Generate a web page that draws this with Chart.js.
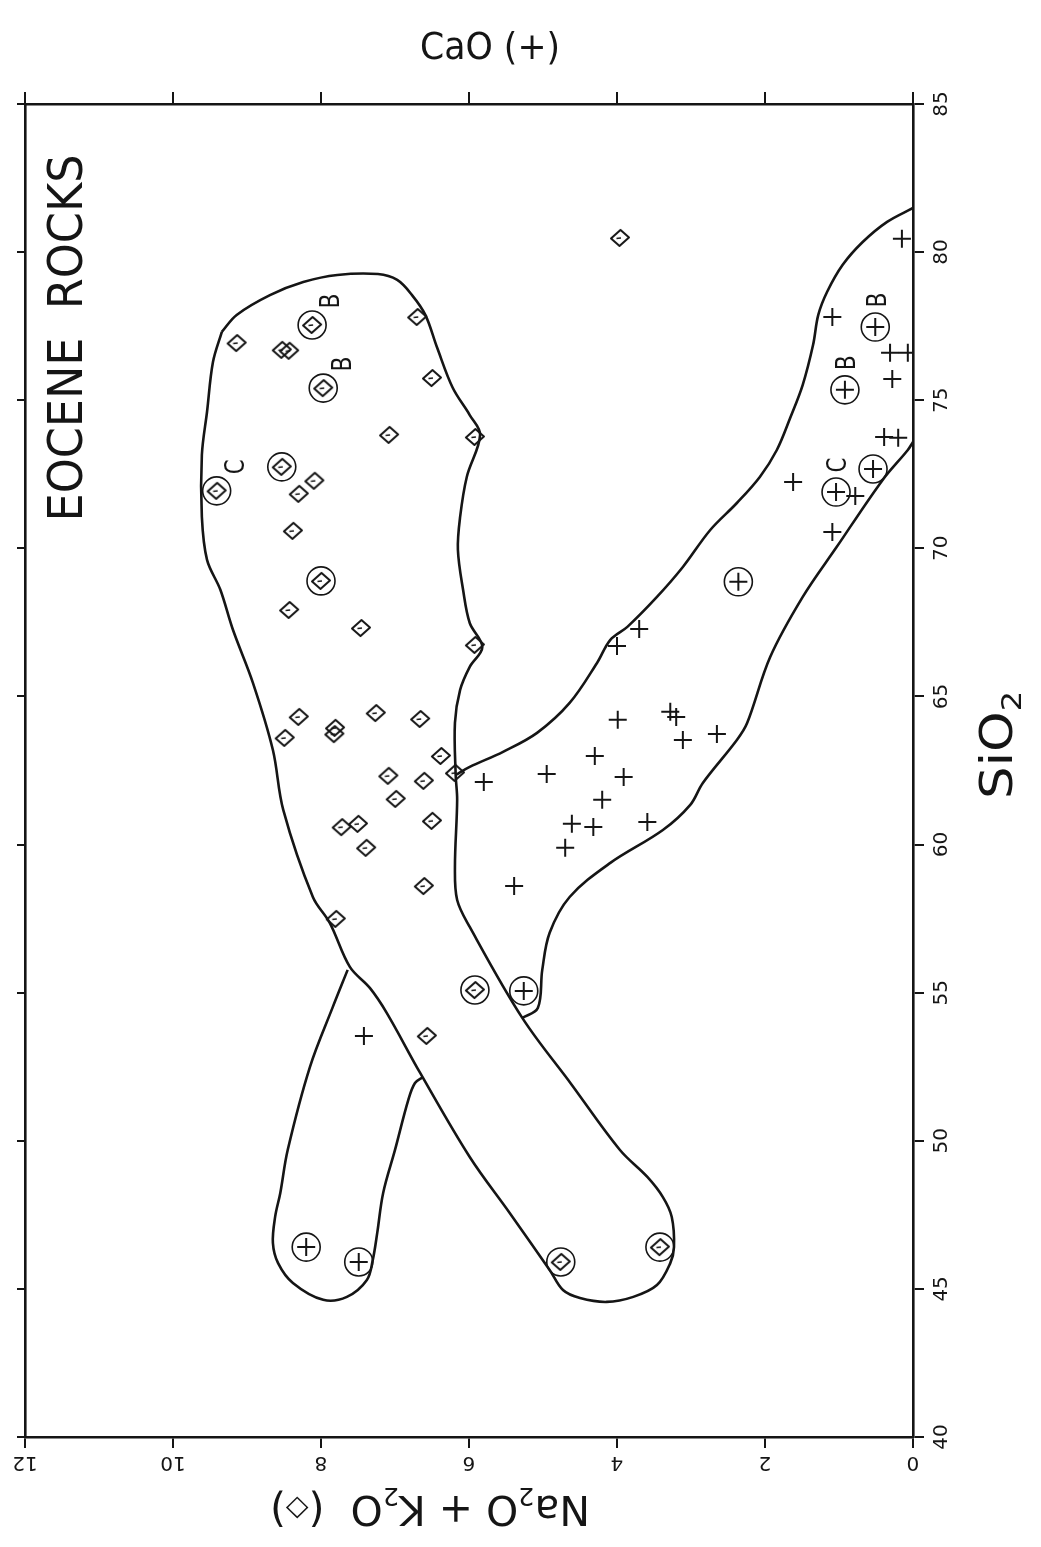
<!DOCTYPE html>
<html>
<head>
<meta charset="utf-8">
<title>Eocene rocks</title>
<script src="https://cdn.jsdelivr.net/npm/chart.js@4.4.1/dist/chart.umd.min.js"></script>
<style>
  html, body { margin: 0; padding: 0; background: #fff; }
  canvas { display: block; }
</style>
</head>
<body>
<canvas id="plot" width="1041" height="1547"></canvas>
<script>
// Tick labels
const silicaTicks = [40, 45, 50, 55, 60, 65, 70, 75, 80, 85];
const alkaliTicks = [0, 2, 4, 6, 8, 10, 12];

// Na2O + K2O samples (diamonds)
const alkSilica = [76.93, 76.70, 76.67, 77.54, 75.41, 77.81, 75.75, 73.83, 73.76, 80.48,
                   71.94, 72.75, 72.28, 71.84, 70.59, 68.90, 67.92, 67.31, 66.74, 64.31,
                   63.60, 63.94, 63.73, 64.44, 64.24, 62.99, 62.42, 62.32, 62.15, 61.54,
                   60.59, 60.70, 60.80, 59.89, 58.60, 57.49, 55.09, 53.54, 45.91, 46.41];
const alkValues = [9.14, 8.53, 8.43, 8.12, 7.97, 6.70, 6.50, 7.08, 5.92, 3.96,
                   9.41, 8.53, 8.09, 8.30, 8.38, 8.00, 8.43, 7.46, 5.92, 8.30,
                   8.49, 7.81, 7.82, 7.26, 6.66, 6.38, 6.19, 7.09, 6.61, 6.99,
                   7.72, 7.50, 6.50, 7.39, 6.61, 7.80, 5.92, 6.57, 4.76, 3.42];
const alkRinged = [3, 4, 10, 11, 15, 36, 38, 39];
const alkTags = { 3: 'B', 4: 'B', 10: 'C' };

// CaO samples (crosses)
const caoSilica = [53.54, 72.68, 71.90, 71.77, 72.24, 70.55, 68.87, 67.28, 66.70, 64.21,
                   64.48, 64.31, 63.53, 63.73, 62.99, 62.38, 62.28, 62.11, 61.51, 60.70,
                   60.59, 60.76, 59.89, 58.60, 55.06, 80.45, 77.81, 77.47, 76.60, 76.60,
                   75.72, 75.35, 73.76, 73.73, 46.41, 45.91];
const caoValues = [7.42, 0.54, 1.04, 0.78, 1.62, 1.09, 2.36, 3.70, 4.00, 3.99,
                   3.28, 3.20, 3.11, 2.65, 4.30, 4.95, 3.91, 5.80, 4.20, 4.61,
                   4.32, 3.59, 4.70, 5.39, 5.26, 0.15, 1.09, 0.51, 0.31, 0.07,
                   0.28, 0.92, 0.39, 0.20, 8.20, 7.49];
const caoRinged = [1, 2, 6, 24, 27, 31, 34, 35];
const caoTags = { 2: 'C', 27: 'B', 31: 'B' };

// Outline of the Na2O + K2O field (closed)
const alkFieldValues = [9.34, 9.46, 9.54, 9.61, 9.61, 9.54, 9.36, 9.19, 8.92, 8.65,
                        8.51, 8.11, 7.88, 7.61, 7.34, 7.11, 6.66, 5.99, 5.45, 4.91,
                        4.73, 4.50, 4.14, 3.78, 3.46, 3.28, 3.23, 3.26, 3.38, 3.59,
                        3.96, 4.62, 5.28, 5.99, 6.16, 6.19, 6.16, 6.18, 6.19, 6.12,
                        5.99, 5.82, 5.99, 6.08, 6.15, 6.12, 6.03, 5.85, 5.99, 6.22,
                        6.43, 6.59, 6.77, 6.97, 7.23, 7.78, 8.24, 8.69, 9.14, 9.34];
const alkFieldSilica = [77.31, 76.29, 74.61, 73.15, 71.06, 69.61, 68.60, 67.25, 65.46, 63.19,
                        61.17, 58.23, 57.35, 55.87, 55.16, 54.31, 52.29, 49.45, 47.56, 45.64,
                        44.96, 44.69, 44.56, 44.73, 45.13, 45.87, 46.41, 47.43, 48.10, 48.78,
                        49.69, 51.92, 54.15, 57.22, 58.13, 59.24, 61.51, 62.35, 64.11, 65.22,
                        66.00, 66.67, 67.48, 68.60, 69.95, 71.06, 72.41, 73.83, 74.50, 75.42,
                        76.77, 77.88, 78.55, 79.06, 79.26, 79.23, 78.99, 78.55, 77.88, 77.31];

// Outline of the CaO field, in three open pieces
const caoUpperValues = [6.18, 5.99, 5.54, 5.08, 4.64, 4.27, 4.09, 3.86, 3.46, 3.11,
                        2.74, 2.38, 2.07, 1.84, 1.66, 1.49, 1.35, 1.28, 1.16, 0.95,
                        0.68, 0.35, 0.00];
const caoUpperSilica = [62.35, 62.62, 63.13, 63.77, 64.78, 66.13, 66.91, 67.35, 68.36, 69.37,
                        70.62, 71.53, 72.41, 73.32, 74.40, 75.52, 76.87, 77.88, 78.66, 79.57,
                        80.34, 81.02, 81.49];
const caoLowerValues = [0.00, 0.07, 0.41, 1.03, 1.49, 1.93, 2.24, 2.38, 2.84, 3.01,
                        3.38, 4.09, 4.64, 4.91, 5.01, 5.07, 5.28];
const caoLowerSilica = [73.59, 73.32, 72.31, 70.05, 68.36, 66.33, 64.11, 63.53, 62.08, 61.34,
                        60.49, 59.38, 58.23, 57.02, 55.77, 54.48, 54.15];
const caoTailValues = [7.64, 7.84, 8.15, 8.45, 8.55, 8.62, 8.65, 8.58, 8.38, 7.97,
                       7.65, 7.38, 7.30, 7.24, 7.16, 7.00, 6.82, 6.73, 6.62];
const caoTailSilica = [55.77, 54.52, 52.49, 49.69, 48.24, 47.43, 46.55, 45.87, 45.20, 44.63,
                       44.73, 45.30, 45.98, 46.89, 48.24, 49.69, 51.38, 51.95, 52.15];

const ink = '#151515';
const face = '"DejaVu Sans", "Liberation Sans", sans-serif';

function pairs(xs, ys) {
    return xs.map((v, i) => ({ x: v, y: ys[i] }));
}

function pick(xs, ys, idx) {
    return idx.map(i => ({ x: xs[i], y: ys[i] }));
}

// Small plotter-style diamond used as the alkali marker
function diamondMarker() {
    const c = document.createElement('canvas');
    c.width = 24;
    c.height = 22;
    const g = c.getContext('2d');
    g.strokeStyle = ink;
    g.lineWidth = 2;
    g.lineJoin = 'round';
    g.beginPath();
    g.moveTo(12.5, 3);
    g.lineTo(21, 10.5);
    g.lineTo(11.5, 19);
    g.lineTo(3, 11.5);
    g.closePath();
    g.stroke();
    g.lineWidth = 1.4;
    g.beginPath();
    g.moveTo(8.5, 11.5);
    g.lineTo(13, 11);
    g.stroke();
    return c;
}

// Draws a run of text pieces rotated about its centre.
// Piece kind: 0 = normal, 1 = subscript, 2 = symbol
function drawRun(ctx, parts, cx, cy, angle, size, fitWidth) {
    const scaleOf = k => (k === 1 ? 0.62 : k === 2 ? 0.72 : 1);
    const shiftOf = k => (k === 1 ? 0.56 : k === 2 ? 0.24 : 0.36);
    ctx.save();
    ctx.translate(cx, cy);
    ctx.rotate(angle);
    const widths = parts.map(([t, k]) => {
        ctx.font = (size * scaleOf(k)) + 'px ' + face;
        return ctx.measureText(t).width;
    });
    const total = widths.reduce((a, b) => a + b, 0);
    ctx.scale(fitWidth ? fitWidth / total : 1, 1);
    ctx.fillStyle = ink;
    ctx.textAlign = 'left';
    ctx.textBaseline = 'alphabetic';
    let x = -total / 2;
    parts.forEach(([t, k], i) => {
        ctx.font = (size * scaleOf(k)) + 'px ' + face;
        ctx.fillText(t, x, size * shiftOf(k));
        x += widths[i];
    });
    ctx.restore();
}

const annotate = {
    id: 'annotate',
    afterDraw(chart) {
        const ctx = chart.ctx;
        const sx = chart.scales.x;
        const sx2 = chart.scales.x2;
        const sy = chart.scales.y;

        // tick labels
        alkaliTicks.forEach(v => {
            drawRun(ctx, [[String(v), 0]], sx.getPixelForValue(v), 1464, Math.PI, 20);
        });
        silicaTicks.forEach(v => {
            drawRun(ctx, [[String(v), 0]], 940, sy.getPixelForValue(v), -Math.PI / 2, 20);
        });

        // axis titles
        drawRun(ctx, [['CaO (+)', 0]], 490, 45, 0, 38, 140);
        drawRun(ctx, [['SiO', 0], ['2', 1]], 996, 745, -Math.PI / 2, 44, 108);
        drawRun(ctx, [['Na', 0], ['2', 1], ['O + K', 0], ['2', 1], ['O  (', 0], ['\u25C7', 2], [')', 0]],
                430, 1510, Math.PI, 40, 320);
        drawRun(ctx, [['EOCENE  ROCKS', 0]], 65, 338, -Math.PI / 2, 48, 367);

        // sample tags
        Object.keys(alkTags).forEach(i => {
            const px = sx.getPixelForValue(alkValues[i]) + 18;
            const py = sy.getPixelForValue(alkSilica[i]) - 24;
            drawRun(ctx, [[alkTags[i], 0]], px, py, -Math.PI / 2, 26, 15);
        });
        Object.keys(caoTags).forEach(i => {
            const px = sx2.getPixelForValue(caoValues[i]) + 1;
            const py = sy.getPixelForValue(caoSilica[i]) - 27;
            drawRun(ctx, [[caoTags[i], 0]], px, py, -Math.PI / 2, 26, 15);
        });
    }
};

const outline = {
    showLine: true,
    pointRadius: 0,
    borderColor: ink,
    borderWidth: 2.6,
    tension: 0.35,
    fill: false
};

const axisLook = (tickLength) => ({
    grid: { drawOnChartArea: false, drawTicks: true, tickLength: tickLength, color: ink, lineWidth: 2 },
    border: { display: true, color: ink, width: 2.6 }
});

new Chart(document.getElementById('plot').getContext('2d'), {
    type: 'scatter',
    data: {
        datasets: [
            Object.assign({ data: pairs(alkFieldValues, alkFieldSilica), xAxisID: 'x', yAxisID: 'y' }, outline),
            Object.assign({ data: pairs(caoUpperValues, caoUpperSilica), xAxisID: 'x2', yAxisID: 'y' }, outline),
            Object.assign({ data: pairs(caoLowerValues, caoLowerSilica), xAxisID: 'x2', yAxisID: 'y' }, outline),
            Object.assign({ data: pairs(caoTailValues, caoTailSilica), xAxisID: 'x2', yAxisID: 'y' }, outline),
            {
                data: pairs(alkValues, alkSilica),
                xAxisID: 'x', yAxisID: 'y',
                pointStyle: diamondMarker(),
                pointRadius: 9
            },
            {
                data: pairs(caoValues, caoSilica),
                xAxisID: 'x2', yAxisID: 'y',
                pointStyle: 'cross',
                pointRadius: 9,
                borderColor: ink,
                borderWidth: 2
            },
            {
                data: pick(alkValues, alkSilica, alkRinged),
                xAxisID: 'x', yAxisID: 'y',
                pointStyle: 'circle',
                pointRadius: 14,
                borderColor: ink,
                borderWidth: 1.6,
                backgroundColor: 'rgba(0,0,0,0)'
            },
            {
                data: pick(caoValues, caoSilica, caoRinged),
                xAxisID: 'x2', yAxisID: 'y',
                pointStyle: 'circle',
                pointRadius: 14,
                borderColor: ink,
                borderWidth: 1.6,
                backgroundColor: 'rgba(0,0,0,0)'
            }
        ]
    },
    options: {
        responsive: false,
        animation: false,
        devicePixelRatio: 1,
        layout: { padding: 0 },
        plugins: {
            legend: { display: false },
            tooltip: { enabled: false }
        },
        scales: {
            x: Object.assign({
                type: 'linear', position: 'bottom', min: 0, max: 12, reverse: true,
                ticks: { display: false, stepSize: 2 },
                afterFit: s => { s.height = 110; }
            }, axisLook(11)),
            x2: Object.assign({
                type: 'linear', position: 'top', min: 0, max: 12, reverse: true,
                ticks: { display: false, stepSize: 2 },
                afterFit: s => { s.height = 104; }
            }, axisLook(12)),
            y: Object.assign({
                type: 'linear', position: 'right', min: 40, max: 85,
                ticks: { display: false, stepSize: 5 },
                afterFit: s => { s.width = 128; }
            }, axisLook(11)),
            y2: Object.assign({
                type: 'linear', position: 'left', min: 40, max: 85,
                ticks: { display: false, stepSize: 5 },
                afterFit: s => { s.width = 25; }
            }, axisLook(8))
        }
    },
    plugins: [annotate]
});
</script>
</body>
</html>
